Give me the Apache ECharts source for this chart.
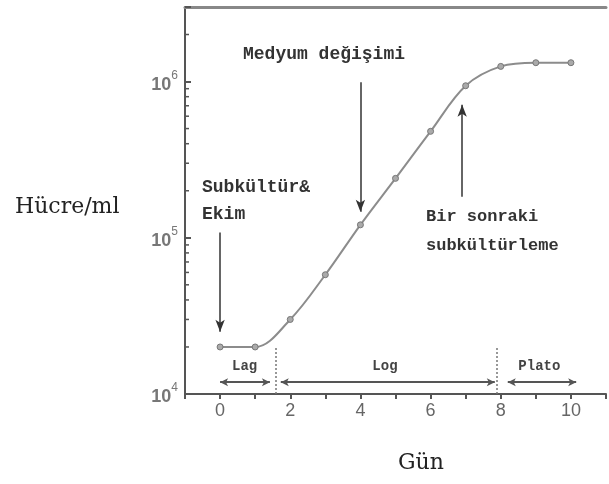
<!DOCTYPE html>
<html>
<head>
<meta charset="utf-8">
<script src="https://cdn.jsdelivr.net/npm/echarts@6/dist/echarts.min.js"></script>
<style>html,body{margin:0;padding:0;background:#fff}#c{width:609px;height:484px}</style>
</head>
<body>
<div id="c"></div>
<script>
// Data
var days = [0, 1, 2, 3, 4, 5, 6, 7, 8, 9, 10];
var cells = [20000, 20000, 30000, 58000, 121000, 240000, 480000, 940000, 1250000, 1320000, 1320000];
var xTickLabels = ['0', '2', '4', '6', '8', '10'];
var yMajorTicks = [10000, 100000, 1000000];
var yMinorTicks = [20000, 30000, 40000, 50000, 60000, 70000, 80000, 90000,
  200000, 300000, 400000, 500000, 600000, 700000, 800000, 900000, 2000000];
// phase boundaries (days) and phase labels
var phaseBounds = [1.6, 7.9];
var phaseNames = ['Lag', 'Log', 'Plato'];
var phaseSpans = [[0, 1.42], [1.73, 7.83], [8.2, 10.15]];
var phaseLabelX = [0.7, 4.7, 9.1];

var chart = echarts.init(document.getElementById('c'), null, {renderer: 'canvas'});

var serif = '"DejaVu Serif", serif';
var mono = '"Liberation Mono", "Courier New", monospace';
var sans = 'Arial, "Liberation Sans", sans-serif';

var arrowLines = [
  [{coord: [4, 990000]}, {coord: [4, 147000]}],
  [{coord: [0, 108000]}, {coord: [0, 25000]}],
  [{coord: [6.9, 183000]}, {coord: [6.9, 710000]}]
];
var phaseLines = phaseBounds.map(function (b) {
  return [{coord: [b, 10000]}, {coord: [b, 19800]}];
});
var spanLines = phaseSpans.map(function (s) {
  return [{coord: [s[0], 11900]}, {coord: [s[1], 11900]}];
});

var option = {
  backgroundColor: '#fff',
  animation: false,
  grid: {left: 185, top: 7, right: -7, bottom: 90, show: false},
  xAxis: [{
    type: 'value', min: -1, max: 11, interval: 1,
    axisLine: {show: true, onZero: false, lineStyle: {color: '#555', width: 2}},
    axisTick: {show: true, inside: false, length: 5, lineStyle: {color: '#555', width: 2}},
    splitLine: {show: false},
    axisLabel: {
      color: '#666', fontSize: 18, fontFamily: sans, margin: 8,
      formatter: function (v) { var s = String(v); return xTickLabels.indexOf(s) >= 0 ? s : ''; }
    }
  }, {
    type: 'value', position: 'top', min: -1, max: 11,
    axisLine: {show: true, onZero: false, lineStyle: {color: '#888', width: 3}},
    axisTick: {show: false}, axisLabel: {show: false}, splitLine: {show: false}
  }],
  yAxis: {
    type: 'log', logBase: 10, min: 10000, max: 3000000,
    axisLine: {show: true, onZero: false, lineStyle: {color: '#555', width: 2}},
    axisTick: {show: true, inside: true, length: 6, lineStyle: {color: '#555', width: 2}},
    splitLine: {show: false},
    axisLabel: {
      margin: 7,
      formatter: function (v) {
        for (var i = 0; i < yMajorTicks.length; i++) {
          if (Math.abs(v - yMajorTicks[i]) / yMajorTicks[i] < 1e-6) {
            return '{b|10}{s|' + Math.round(Math.log10(v)) + '}';
          }
        }
        return '';
      },
      rich: {
        b: {fontSize: 18, fontWeight: 'bold', color: '#777', fontFamily: sans, verticalAlign: 'bottom', padding: [6, 0, 0, 0]},
        s: {fontSize: 12, color: '#777', fontFamily: sans, verticalAlign: 'top', padding: [0, 0, 8, 0]}
      }
    }
  },
  series: [{
    type: 'line',
    xAxisIndex: 0,
    data: days.map(function (d, i) { return [d, cells[i]]; }),
    smooth: 0.35,
    symbol: 'circle', symbolSize: 6,
    lineStyle: {color: '#8c8c8c', width: 2},
    itemStyle: {color: '#aaa', borderColor: '#777', borderWidth: 1},
    markLine: {
      silent: true,
      symbol: ['none', 'arrow'],
      symbolSize: [7, 12],
      label: {show: false},
      lineStyle: {color: '#333', width: 1.5, type: 'solid'},
      data: arrowLines
    },
    markPoint: {
      silent: true, symbol: 'circle', symbolSize: 0,
      label: {show: true, position: 'inside', color: '#444', fontFamily: mono, fontSize: 14, fontWeight: 'bold',
        formatter: function (p) { return p.name; }},
      data: phaseNames.map(function (n, i) { return {name: n, coord: [phaseLabelX[i], 15100]}; })
    },
    z: 3
  }, {
    type: 'line', xAxisIndex: 0, data: [],
    markLine: {
      silent: true, symbol: ['none', 'none'], label: {show: false},
      lineStyle: {color: '#777', width: 1.5, type: [2, 2]},
      data: phaseLines
    }
  }, {
    type: 'line', xAxisIndex: 0, data: [],
    markLine: {
      silent: true, symbol: ['arrow', 'arrow'], symbolSize: [6, 8], label: {show: false},
      lineStyle: {color: '#555', width: 2, type: 'solid'},
      data: spanLines
    }
  }, {
    type: 'custom', xAxisIndex: 0,
    data: yMinorTicks.map(function (v) { return [-1, v]; }),
    renderItem: function (params, api) {
      var p = api.coord([api.value(0), api.value(1)]);
      return {type: 'line', shape: {x1: p[0], y1: p[1], x2: p[0] + 4, y2: p[1]},
        style: {stroke: '#555', lineWidth: 1.5}};
    },
    silent: true, z: 4
  }],
  graphic: [
    {type: 'text', left: 15, top: 196, style: {text: 'Hücre/ml', font: '22px ' + serif, fill: '#222'}},
    {type: 'text', left: 398, top: 452, style: {text: 'Gün', font: '22px ' + serif, fill: '#222'}},
    {type: 'text', left: 243, top: 45, style: {text: 'Medyum değişimi', font: 'bold 18px ' + mono, fill: '#333'}},
    {type: 'text', left: 202, top: 178, style: {text: 'Subkültür&', font: 'bold 18px ' + mono, fill: '#333'}},
    {type: 'text', left: 202, top: 205, style: {text: 'Ekim', font: 'bold 18px ' + mono, fill: '#333'}},
    {type: 'text', left: 426, top: 208, style: {text: 'Bir sonraki', font: 'bold 17px ' + mono, fill: '#333'}},
    {type: 'text', left: 426, top: 237, style: {text: 'subkültürleme', font: 'bold 17px ' + mono, fill: '#333'}}
  ]
};
chart.setOption(option);
</script>
</body>
</html>
